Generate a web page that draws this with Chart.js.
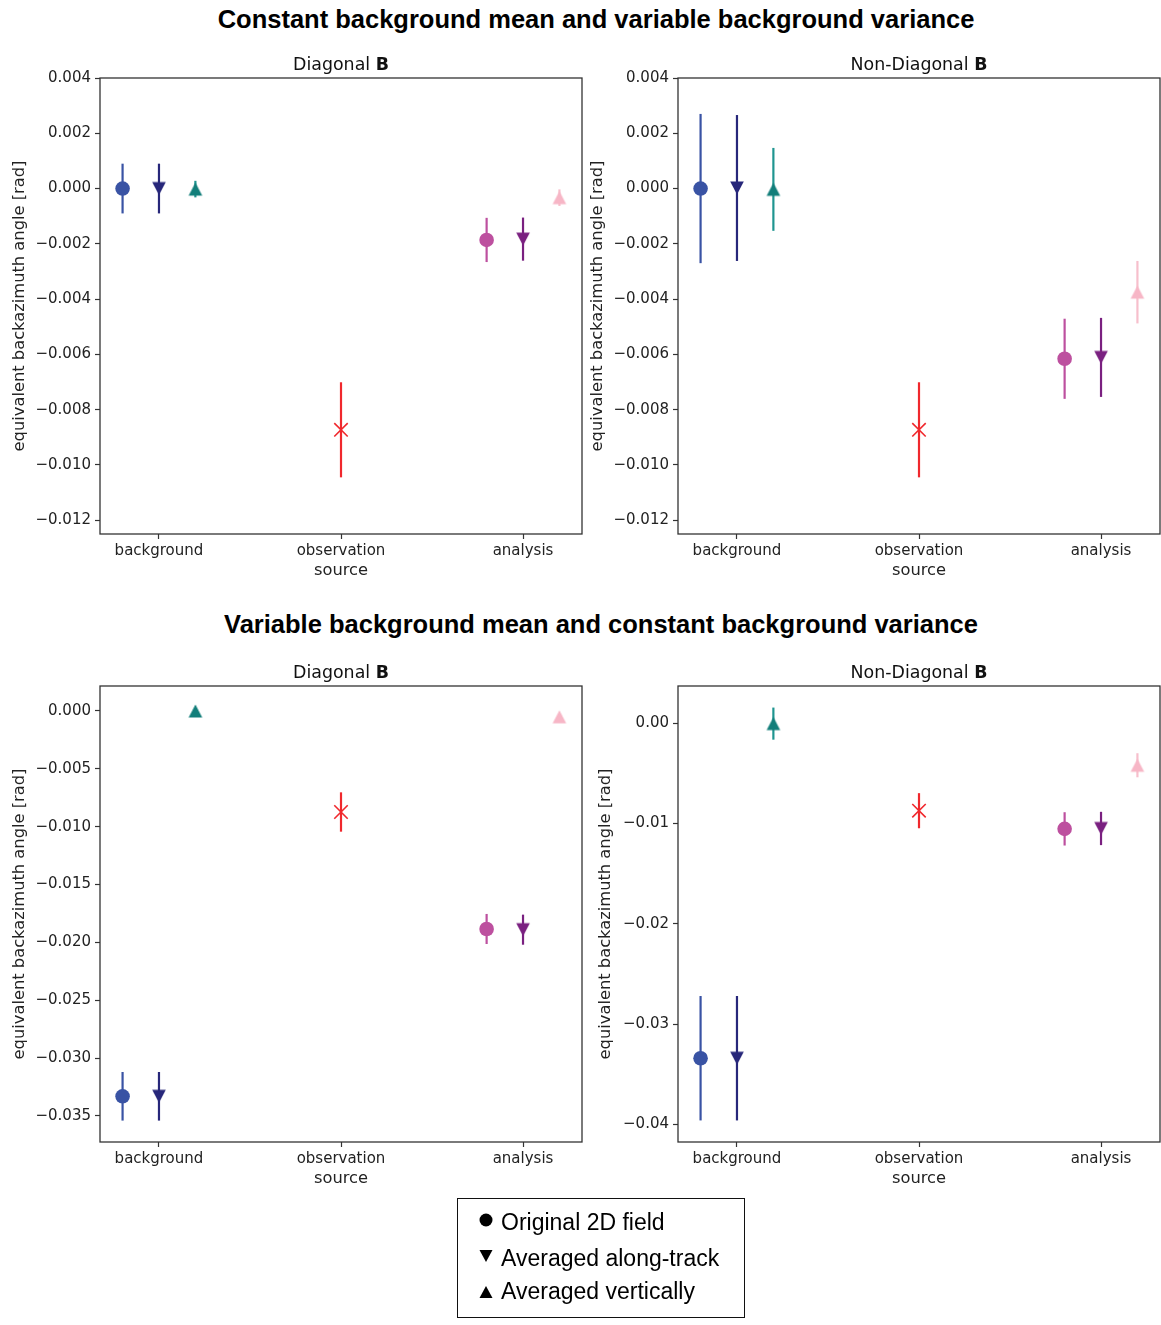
<!DOCTYPE html>
<html>
<head>
<meta charset="utf-8">
<script src="https://cdn.jsdelivr.net/npm/chart.js@4/dist/chart.umd.min.js"></script>
<style>
  html, body { margin: 0; padding: 0; background: #fff; }
  body { width: 1161px; height: 1325px; position: relative; overflow: hidden; font-family: 'DejaVu Sans', sans-serif; }
  canvas { position: absolute; }
  .main { position: absolute; transform: translate(-50%, -50%); white-space: nowrap;
          font-family: 'Liberation Sans', Arial, sans-serif; font-weight: bold; font-size: 25.5px; color: #000; }
  .sub { position: absolute; transform: translate(-50%, -50%); white-space: nowrap;
         font-family: 'DejaVu Sans', sans-serif; font-size: 17.4px; color: #111; }
  .sub b { font-weight: bold; }
  #legend { position: absolute; left: 457px; top: 1198px; width: 286px; height: 118px; border: 1.5px solid #111; }
  .lg { position: absolute; white-space: nowrap; transform: translateY(-50%);
        font-family: 'Liberation Sans', Arial, sans-serif; font-size: 23px; color: #000; }
  .lm { position: absolute; transform: translate(-50%, -50%); }
</style>
</head>
<body>
<div id="root"></div>
<script>
// ---------------- DATA ----------------
const categories = ['background', 'observation', 'analysis'];
const xTitle = 'source';
const yTitle = 'equivalent backazimuth angle [rad]';
const legendLabels = ['Original 2D field', 'Averaged along-track', 'Averaged vertically'];
const mainTitles = ['Constant background mean and variable background variance',
                    'Variable background mean and constant background variance'];
const panelTitles = ['Diagonal', 'Non-Diagonal', 'Diagonal', 'Non-Diagonal'];
const panelTitleBold = 'B';
// x offsets of the three variants inside each category: original, along-track, vertical
const variantOffsets = [-0.2, 0, 0.2];

// Panel A: constant mean / variable variance, diagonal B
const aBackground = [0.0000, 0.0000, -0.00002];
const aBackgroundErr = [0.0009, 0.0009, 0.0003];
const aObservation = [-0.00873];
const aObservationErr = [0.00172];
const aAnalysis = [-0.00186, -0.00183, -0.00033];
const aAnalysisErr = [0.0008, 0.00078, 0.0003];
const aYTicks = [0.004, 0.002, 0, -0.002, -0.004, -0.006, -0.008, -0.010, -0.012];
const aYTickLabels = ['0.004', '0.002', '0.000', '\u22120.002', '\u22120.004', '\u22120.006', '\u22120.008', '\u22120.010', '\u22120.012'];
const aYRange = [-0.0125, 0.004];

// Panel B: constant mean / variable variance, non-diagonal B
const bBackground = [0.0000, 0.00002, -0.00003];
const bBackgroundErr = [0.0027, 0.00264, 0.0015];
const bObservation = [-0.00873];
const bObservationErr = [0.00172];
const bAnalysis = [-0.00616, -0.00611, -0.00375];
const bAnalysisErr = [0.00145, 0.00143, 0.00113];
const bYTicks = aYTicks;
const bYTickLabels = aYTickLabels;
const bYRange = [-0.0125, 0.004];

// Panel C: variable mean / constant variance, diagonal B
const cBackground = [-0.0333, -0.0333, 0.0000];
const cBackgroundErr = [0.0021, 0.0021, 0.0001];
const cObservation = [-0.00873];
const cObservationErr = [0.0017];
const cAnalysis = [-0.01884, -0.0189, -0.0005];
const cAnalysisErr = [0.0013, 0.0013, 0.0002];
const cYTicks = [0, -0.005, -0.010, -0.015, -0.020, -0.025, -0.030, -0.035];
const cYTickLabels = ['0.000', '\u22120.005', '\u22120.010', '\u22120.015', '\u22120.020', '\u22120.025', '\u22120.030', '\u22120.035'];
const cYRange = [-0.03725, 0.00216];

// Panel D: variable mean / constant variance, non-diagonal B
const dBackground = [-0.0334, -0.0334, -0.00005];
const dBackgroundErr = [0.0062, 0.0062, 0.0016];
const dObservation = [-0.00873];
const dObservationErr = [0.00175];
const dAnalysis = [-0.01054, -0.0105, -0.0042];
const dAnalysisErr = [0.00166, 0.00166, 0.0012];
const dYTicks = [0, -0.01, -0.02, -0.03, -0.04];
const dYTickLabels = ['0.00', '\u22120.01', '\u22120.02', '\u22120.03', '\u22120.04'];
const dYRange = [-0.04175, 0.0037];

// ---------------- STYLE ----------------
const backgroundColors = ['#3953a4', '#27277a', '#127e7a'];
const backgroundErrColors = ['#3953a4', '#27277a', '#1f9590'];
const observationColor = '#f0282d';
const analysisColors = ['#bd509f', '#7a2080', '#f7b6c6'];
const analysisErrColors = ['#bd509f', '#7a2080', '#f7bfcc'];
const tickFont = { family: 'DejaVu Sans', size: 15 };
const labelFont = { family: 'DejaVu Sans', size: 16.3 };
const inkColor = '#222';
const spineColor = '#333';

function makeTriangle(color, dir) {
  const c = document.createElement('canvas');
  c.width = 16; c.height = 16;
  const g = c.getContext('2d');
  g.fillStyle = color;
  g.beginPath();
  if (dir === 'down') {
    g.moveTo(8 - 6.8, 8 - 6.4); g.lineTo(8 + 6.8, 8 - 6.4); g.lineTo(8, 8 + 6.4);
  } else {
    g.moveTo(8, 8 - 6.4); g.lineTo(8 + 6.8, 8 + 6.4); g.lineTo(8 - 6.8, 8 + 6.4);
  }
  g.closePath(); g.fill();
  return c;
}

const errorBarPlugin = {
  id: 'errorBars',
  beforeDatasetsDraw(chart) {
    const ctx = chart.ctx, xs = chart.scales.x, ys = chart.scales.y;
    ctx.save();
    chart.data.datasets.forEach(ds => {
      if (!ds.errors) return;
      ds.data.forEach((pt, i) => {
        const e = ds.errors[i];
        const px = xs.getPixelForValue(pt.x);
        ctx.strokeStyle = ds.errColor;
        ctx.lineWidth = 2.2;
        ctx.beginPath();
        ctx.moveTo(px, ys.getPixelForValue(pt.y + e));
        ctx.lineTo(px, ys.getPixelForValue(pt.y - e));
        ctx.stroke();
      });
    });
    ctx.restore();
  }
};
const framePlugin = {
  id: 'frame',
  afterDraw(chart) {
    const a = chart.chartArea, ctx = chart.ctx;
    ctx.save();
    ctx.strokeStyle = spineColor; ctx.lineWidth = 1.3;
    ctx.strokeRect(a.left, a.top, a.right - a.left, a.bottom - a.top);
    ctx.restore();
  }
};

function buildDatasets(bg, bgErr, obs, obsErr, an, anErr) {
  const ds = [];
  const styles = (color, k) => k === 0 ? { pointStyle: 'circle', pointRadius: 7.3, pointBackgroundColor: color, pointBorderWidth: 0 }
                             : { pointStyle: makeTriangle(color, k === 1 ? 'down' : 'up'), pointRadius: 7 };
  for (let k = 0; k < 3; k++) {
    ds.push(Object.assign({ data: [{ x: 0 + variantOffsets[k], y: bg[k] }], errors: [bgErr[k]], errColor: backgroundErrColors[k], showLine: false }, styles(backgroundColors[k], k)));
  }
  ds.push({ data: [{ x: 1, y: obs[0] }], errors: obsErr, errColor: observationColor, showLine: false,
            pointStyle: 'crossRot', pointRadius: 9.5, pointBorderColor: observationColor, pointBorderWidth: 1.6 });
  for (let k = 0; k < 3; k++) {
    ds.push(Object.assign({ data: [{ x: 2 + variantOffsets[k], y: an[k] }], errors: [anErr[k]], errColor: analysisErrColors[k], showLine: false }, styles(analysisColors[k], k)));
  }
  return ds;
}

const panels = [
  { left: 0,   top: 50,  width: 594, yTitlePad: 10.2, ticks: aYTicks, labels: aYTickLabels, range: aYRange,
    ds: buildDatasets(aBackground, aBackgroundErr, aObservation, aObservationErr, aAnalysis, aAnalysisErr), title: panelTitles[0], tx: 341, ty: 64 },
  { left: 578, top: 50,  width: 594, yTitlePad: 10.2, ticks: bYTicks, labels: bYTickLabels, range: bYRange,
    ds: buildDatasets(bBackground, bBackgroundErr, bObservation, bObservationErr, bAnalysis, bAnalysisErr), title: panelTitles[1], tx: 919, ty: 64 },
  { left: 0,   top: 658, width: 594, yTitlePad: 10.2, ticks: cYTicks, labels: cYTickLabels, range: cYRange,
    ds: buildDatasets(cBackground, cBackgroundErr, cObservation, cObservationErr, cAnalysis, cAnalysisErr), title: panelTitles[2], tx: 341, ty: 672 },
  { left: 578, top: 658, width: 594, yTitlePad: 18.2, ticks: dYTicks, labels: dYTickLabels, range: dYRange,
    ds: buildDatasets(dBackground, dBackgroundErr, dObservation, dObservationErr, dAnalysis, dAnalysisErr), title: panelTitles[3], tx: 919, ty: 672 }
];

const root = document.getElementById('root');
const gridCfg = { display: true, drawOnChartArea: false, drawTicks: true, tickLength: 5, tickColor: spineColor, tickWidth: 1.2 };

panels.forEach(p => {
  const cv = document.createElement('canvas');
  cv.width = p.width; cv.height = 548;
  cv.style.left = p.left + 'px'; cv.style.top = p.top + 'px';
  cv.style.width = p.width + 'px'; cv.style.height = '548px';
  root.appendChild(cv);

  const t = document.createElement('div');
  t.className = 'sub';
  t.style.left = p.tx + 'px'; t.style.top = p.ty + 'px';
  t.innerHTML = p.title + ' <b>' + panelTitleBold + '</b>';
  root.appendChild(t);

  new Chart(cv, {
    type: 'scatter',
    data: { datasets: p.ds },
    plugins: [errorBarPlugin, framePlugin],
    options: {
      responsive: false, animation: false, devicePixelRatio: 1,
      layout: { padding: { left: 0, top: 28, right: 12, bottom: 0 } },
      plugins: { legend: { display: false }, tooltip: { enabled: false }, title: { display: false } },
      scales: {
        x: {
          type: 'linear', min: -0.324, max: 2.324,
          afterBuildTicks: s => { s.ticks = categories.map((c, i) => ({ value: i })); },
          afterFit: s => { s.height = 64; },
          ticks: { callback: (v, i) => categories[i], font: tickFont, color: inkColor, padding: 3, maxRotation: 0, autoSkip: false },
          grid: gridCfg, border: { display: false },
          title: { display: true, text: xTitle, font: labelFont, color: inkColor, padding: { top: 0, bottom: 17.2 } }
        },
        y: {
          type: 'linear', min: p.range[0], max: p.range[1],
          afterBuildTicks: s => { s.ticks = p.ticks.map(v => ({ value: v })); },
          afterFit: s => { s.width = 100; },
          ticks: { callback: (v, i) => p.labels[i], font: tickFont, color: inkColor, padding: 4, autoSkip: false },
          grid: gridCfg, border: { display: false },
          title: { display: true, text: yTitle, font: labelFont, color: inkColor, padding: { top: p.yTitlePad, bottom: 0 } }
        }
      }
    }
  });
});

// main titles
[[596, 19], [601, 624]].forEach((pos, i) => {
  const d = document.createElement('div');
  d.className = 'main';
  d.style.left = pos[0] + 'px'; d.style.top = pos[1] + 'px';
  d.textContent = mainTitles[i];
  root.appendChild(d);
});

// legend
const lg = document.createElement('div');
lg.id = 'legend';
root.appendChild(lg);
const legendMarkers = [
  '<svg width="16" height="16"><circle cx="8" cy="8" r="6.5" fill="#000"/></svg>',
  '<svg width="16" height="16"><polygon points="1.5,2 14.5,2 8,14" fill="#000"/></svg>',
  '<svg width="16" height="16"><polygon points="8,2 14.5,14 1.5,14" fill="#000"/></svg>'
];
const legendY = [1222, 1258, 1291];
const legendMarkerY = [1222, 1258, 1294];
legendLabels.forEach((txt, i) => {
  const m = document.createElement('div');
  m.className = 'lm'; m.style.left = '486px'; m.style.top = legendMarkerY[i] + 'px';
  m.innerHTML = legendMarkers[i];
  root.appendChild(m);
  const l = document.createElement('div');
  l.className = 'lg'; l.style.left = '501px'; l.style.top = legendY[i] + 'px';
  l.textContent = txt;
  root.appendChild(l);
});
</script>
</body>
</html>
